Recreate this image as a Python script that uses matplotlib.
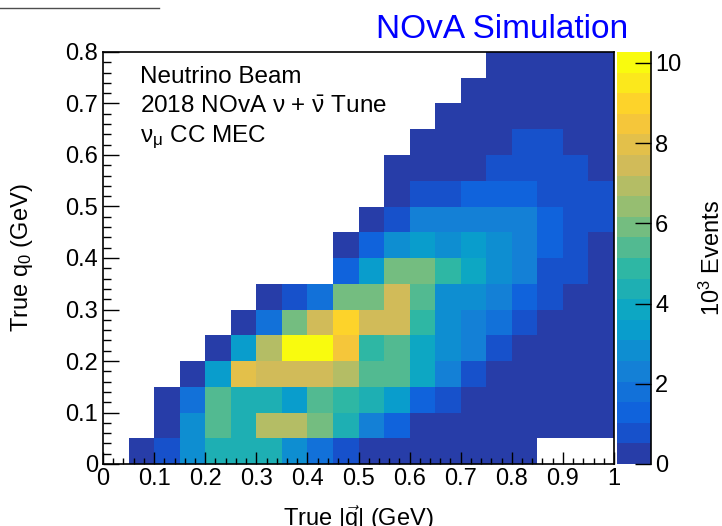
import matplotlib
matplotlib.use('Agg')
import matplotlib.pyplot as plt
from matplotlib.colors import LinearSegmentedColormap, ListedColormap, BoundaryNorm
from matplotlib.ticker import MultipleLocator, FuncFormatter
from matplotlib.lines import Line2D
import numpy as np

# Binning: |q| from 0 to 1 GeV, q0 from 0 to 0.8 GeV, 0.05 GeV bins
q_range = (0.0, 1.0)
q0_range = (0.0, 0.8)
n_q = 20
n_q0 = 16

# Events per bin in 10^3, rows from q0 = 0.75-0.8 (top) down to 0-0.05 (bottom)
E = np.nan
events = [
    [E]*15 + [0.1, 0.1, 0.1, 0.1, 0.1],
    [E]*14 + [0.1, 0.2, 0.2, 0.2, 0.2, 0.1],
    [E]*13 + [0.1, 0.2, 0.3, 0.3, 0.3, 0.2, 0.2],
    [E]*12 + [0.1, 0.3, 0.4, 0.45, 0.6, 0.6, 0.45, 0.3],
    [E]*11 + [0.1, 0.2, 0.3, 0.45, 0.6, 0.7, 0.7, 0.6, 0.4],
    [E]*11 + [0.2, 0.6, 0.9, 1.1, 1.2, 1.1, 0.95, 0.9, 0.6],
    [E]*10 + [0.3, 0.9, 2.2, 2.4, 2.4, 2.3, 2.1, 1.3, 0.9, 0.6],
    [E]*9 + [0.4, 1.3, 2.8, 3.2, 2.9, 3.2, 2.7, 2.2, 1.2, 0.8, 0.4],
    [E]*9 + [1.4, 3.4, 5.8, 5.9, 4.9, 3.8, 2.9, 2.3, 1.0, 0.8, 0.3],
    [E]*6 + [0.3, 0.9, 1.8, 6.0, 5.8, 7.4, 5.4, 3.0, 2.9, 2.4, 1.3, 0.7, 0.4, 0.2],
    [E]*5 + [0.4, 1.8, 5.9, 7.5, 9.0, 7.4, 7.3, 4.9, 2.8, 2.3, 1.7, 0.8, 0.4, 0.2, 0.1],
    [E]*4 + [0.4, 3.3, 6.9, 10.27, 10.1, 8.5, 4.8, 5.4, 3.8, 2.8, 2.2, 0.9, 0.4, 0.2, 0.1, 0.1],
    [E]*3 + [0.3, 3.4, 8.0, 7.5, 7.4, 7.4, 6.9, 5.3, 5.4, 3.9, 2.2, 0.8, 0.3, 0.2, 0.1, 0.1, 0.1],
    [E]*2 + [0.3, 1.8, 5.4, 4.4, 4.3, 3.4, 5.3, 4.9, 4.4, 3.3, 1.3, 0.8, 0.4, 0.2, 0.1, 0.1, 0.1, 0.1],
    [E]*2 + [0.4, 2.8, 5.3, 4.4, 6.9, 6.8, 5.9, 4.3, 2.3, 1.2, 0.4, 0.3, 0.2, 0.1, 0.1, 0.1, 0.1, 0.1],
    [E] + [0.4, 0.9, 2.8, 4.3, 4.4, 4.3, 2.9, 1.8, 0.9, 0.4, 0.3, 0.2, 0.2, 0.1, 0.1, 0.1] + [E]*3,
]

cbar_ticks = [0, 2, 4, 6, 8, 10]
label_lines = [r'Neutrino Beam',
               r'2018 NOvA $\mathrm{\nu}$ + $\bar{\mathrm{\nu}}$ Tune',
               r'$\mathrm{\nu_{\mu}}$ CC MEC']

# ROOT "kBird" palette, 20 contour levels
bird_stops = [0.0, 0.125, 0.25, 0.375, 0.5, 0.625, 0.75, 0.875, 1.0]
bird_r = [0.2082, 0.0592, 0.0780, 0.0232, 0.1802, 0.5301, 0.8186, 0.9956, 0.9764]
bird_g = [0.1664, 0.3599, 0.5041, 0.6419, 0.7178, 0.7492, 0.7328, 0.7862, 0.9832]
bird_b = [0.5293, 0.8684, 0.8385, 0.7914, 0.6425, 0.4662, 0.3499, 0.1968, 0.0539]
n_levels = 20


def main():
    plt.rcParams['font.family'] = ['Liberation Sans', 'DejaVu Sans']
    plt.rcParams['mathtext.fontset'] = 'custom'
    plt.rcParams['mathtext.rm'] = 'Liberation Sans'
    plt.rcParams['mathtext.it'] = 'Liberation Sans:italic'
    plt.rcParams['mathtext.bf'] = 'Liberation Sans:bold'
    fs = 17

    grid = np.array(events, dtype=float)[::-1]
    x_edges = np.linspace(q_range[0], q_range[1], n_q + 1)
    y_edges = np.linspace(q0_range[0], q0_range[1], n_q0 + 1)

    bird = LinearSegmentedColormap.from_list(
        'bird', list(zip(bird_stops, zip(bird_r, bird_g, bird_b))), N=255)
    band_pos = [int((k + 0.99) * 255 / n_levels) / 254 for k in range(n_levels)]
    cmap = ListedColormap(bird(band_pos))
    levels = np.linspace(0, np.nanmax(grid), n_levels + 1)
    norm = BoundaryNorm(levels, n_levels, clip=True)

    fig = plt.figure(figsize=(7.22, 5.26), dpi=100)
    W, H = 722, 526
    ax = fig.add_axes([103 / W, 62 / H, 511 / W, 412 / H])
    cax = fig.add_axes([617 / W, 62 / H, 34 / W, 412 / H])

    mesh = ax.pcolormesh(x_edges, y_edges, grid, cmap=cmap, norm=norm,
                         shading='flat', antialiased=False)
    ax.set_xlim(*q_range)
    ax.set_ylim(*q0_range)

    # Achsen im ROOT-Stil: Ticks nach innen
    fmt = FuncFormatter(lambda v, p: f'{v:g}')
    ax.xaxis.set_major_locator(MultipleLocator(0.1))
    ax.xaxis.set_minor_locator(MultipleLocator(0.02))
    ax.yaxis.set_major_locator(MultipleLocator(0.1))
    ax.yaxis.set_minor_locator(MultipleLocator(0.02))
    ax.xaxis.set_major_formatter(fmt)
    ax.yaxis.set_major_formatter(fmt)
    ax.tick_params(which='both', direction='in', top=False, right=False,
                   labelsize=fs, width=1.0, color='k')
    ax.tick_params(axis='x', which='major', length=8.6, pad=3)
    ax.tick_params(axis='x', which='minor', length=4.3)
    ax.tick_params(axis='y', which='major', length=11.5, pad=3.5)
    ax.tick_params(axis='y', which='minor', length=5.8)
    for sp in ax.spines.values():
        sp.set_linewidth(1.2)
        sp.set_color('k')

    ax.set_xlabel(r'True $|\vec{\mathrm{q}}|$ (GeV)', fontsize=fs)
    ax.xaxis.set_label_coords(0.5, -0.094)
    ax.set_ylabel(r'True q$_0$ (GeV)', fontsize=fs)
    ax.yaxis.set_label_coords(-0.133, 0.5)

    for txt, yb in zip(label_lines, [0.924, 0.851, 0.782]):
        ax.text(0.0724, yb, txt, transform=ax.transAxes, fontsize=17.5,
                ha='left', va='baseline')

    # Farbskala
    cb = fig.colorbar(mesh, cax=cax, ticks=cbar_ticks)
    cb.outline.set_visible(False)
    cax.spines['right'].set_visible(True)
    cax.spines['right'].set_linewidth(1.2)
    cax.tick_params(which='major', direction='in', length=11.5, width=1.0,
                    labelsize=fs, pad=3, right=True, left=False, color='k')
    cax.minorticks_off()
    cax.set_ylabel(r'10$^3$ Events', fontsize=fs)
    cax.yaxis.set_label_coords(2.43, 0.5)

    fig.text(628 / W, 1 - 38 / H, 'NOvA Simulation', color='#0000ff',
             fontsize=24, ha='right', va='baseline')
    fig.add_artist(Line2D([0, 159 / W], [1 - 8 / H, 1 - 8 / H],
                          transform=fig.transFigure, color='0.3', lw=1.0))

    fig.savefig('out.png', dpi=100)


if __name__ == '__main__':
    main()
